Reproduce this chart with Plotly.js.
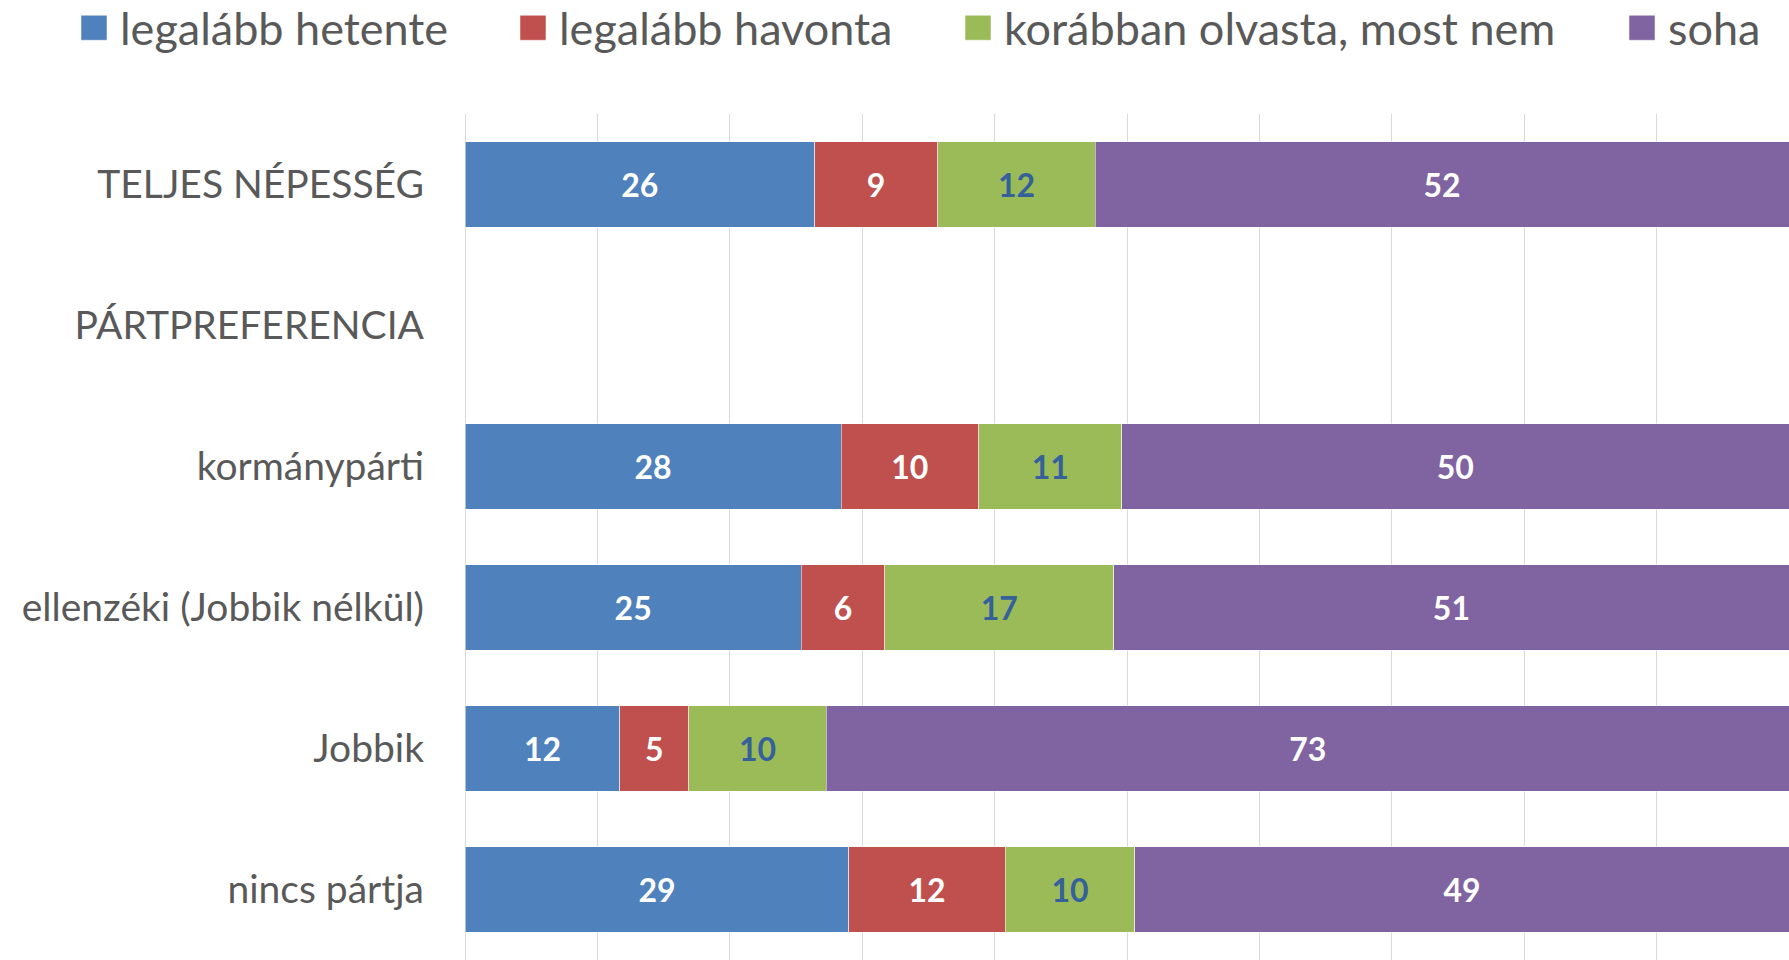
<!DOCTYPE html>
<html>
<head>
<meta charset="utf-8">
<script src="https://cdn.plot.ly/plotly-3.0.1.min.js"></script>
<style>
  html, body { margin: 0; padding: 0; background: #ffffff; }
  #chart { width: 1789px; height: 960px; }
</style>
</head>
<body>
<div id="chart"></div>
<script>
// Categories (top to bottom)
const categories = [
  "TELJES NÉPESSÉG",
  "PÁRTPREFERENCIA",
  "kormánypárti",
  "ellenzéki (Jobbik nélkül)",
  "Jobbik",
  "nincs pártja"
];

// Series names
const seriesNames = ["legalább hetente", "legalább havonta", "korábban olvasta, most nem", "soha"];

// Series values (percent; labels show rounded values)
const hetente  = [26.4, null, 28.4, 25.4, 11.7, 29.0];
const havonta  = [9.3,  null, 10.4, 6.3,  5.2,  11.8];
const korabban = [11.9, null, 10.8, 17.3, 10.4, 9.8];
const soha     = [52.4, null, 50.4, 51.0, 72.7, 49.4];

const seriesValues = [hetente, havonta, korabban, soha];
const seriesColors = ["#4F81BD", "#C0504D", "#9BBB59", "#8064A2"];
const labelColors  = ["#FFFFFF", "#FFFFFF", "#35609A", "#FFFFFF"];
const legendIds    = ["legend", "legend2", "legend3", "legend4"];
const legendLeft   = [68, 507, 952, 1616];

const W = 1789, H = 960;

const traces = seriesNames.map((name, i) => ({
  type: "bar",
  orientation: "h",
  name: name,
  x: seriesValues[i],
  y: categories,
  legend: legendIds[i],
  marker: { color: seriesColors[i], line: { color: "#FFFFFF", width: 0.5 } },
  texttemplate: "%{x:.0f}",
  textposition: "inside",
  insidetextanchor: "middle",
  textangle: 0,
  constraintext: "none",
  textfont: { family: "Lato", size: 32, weight: "bold", color: labelColors[i] },
  hoverinfo: "name+x+y"
}));

function legendCfg(i) {
  return {
    orientation: "h",
    xref: "container", yref: "container",
    x: legendLeft[i] / W, xanchor: "left",
    y: 1 - 28 / H, yanchor: "middle",
    itemwidth: 42,
    font: { family: "Lato", size: 45, color: "#595959" },
    bgcolor: "rgba(0,0,0,0)",
    borderwidth: 0,
    itemclick: false, itemdoubleclick: false
  };
}

const layout = {
  width: W, height: H,
  paper_bgcolor: "#FFFFFF",
  plot_bgcolor: "#FFFFFF",
  margin: { l: 465, r: 0, t: 114, b: 0, pad: 0 },
  barmode: "stack",
  bargap: 0.393,
  showlegend: true,
  legend: legendCfg(0),
  legend2: legendCfg(1),
  legend3: legendCfg(2),
  legend4: legendCfg(3),
  xaxis: {
    range: [0, 100],
    dtick: 10,
    showticklabels: false,
    showgrid: true,
    gridcolor: "#D9D9D9",
    gridwidth: 1,
    zeroline: true,
    zerolinecolor: "#D9D9D9",
    zerolinewidth: 1,
    showline: false,
    ticks: "",
    fixedrange: true
  },
  yaxis: {
    type: "category",
    autorange: "reversed",
    showgrid: false,
    zeroline: false,
    showline: false,
    ticks: "",
    ticklabelstandoff: 40,
    tickfont: { family: "Lato", size: 39, color: "#595959" },
    fixedrange: true
  },
  font: { family: "Lato", color: "#595959" }
};

Plotly.newPlot("chart", traces, layout, { displayModeBar: false, staticPlot: false }).then(gd => {
  gd.querySelectorAll(".legendpoints path").forEach(p => {
    p.setAttribute("d", "M13,12.5H-13V-12.5H13Z");
  });
});
</script>
</body>
</html>
